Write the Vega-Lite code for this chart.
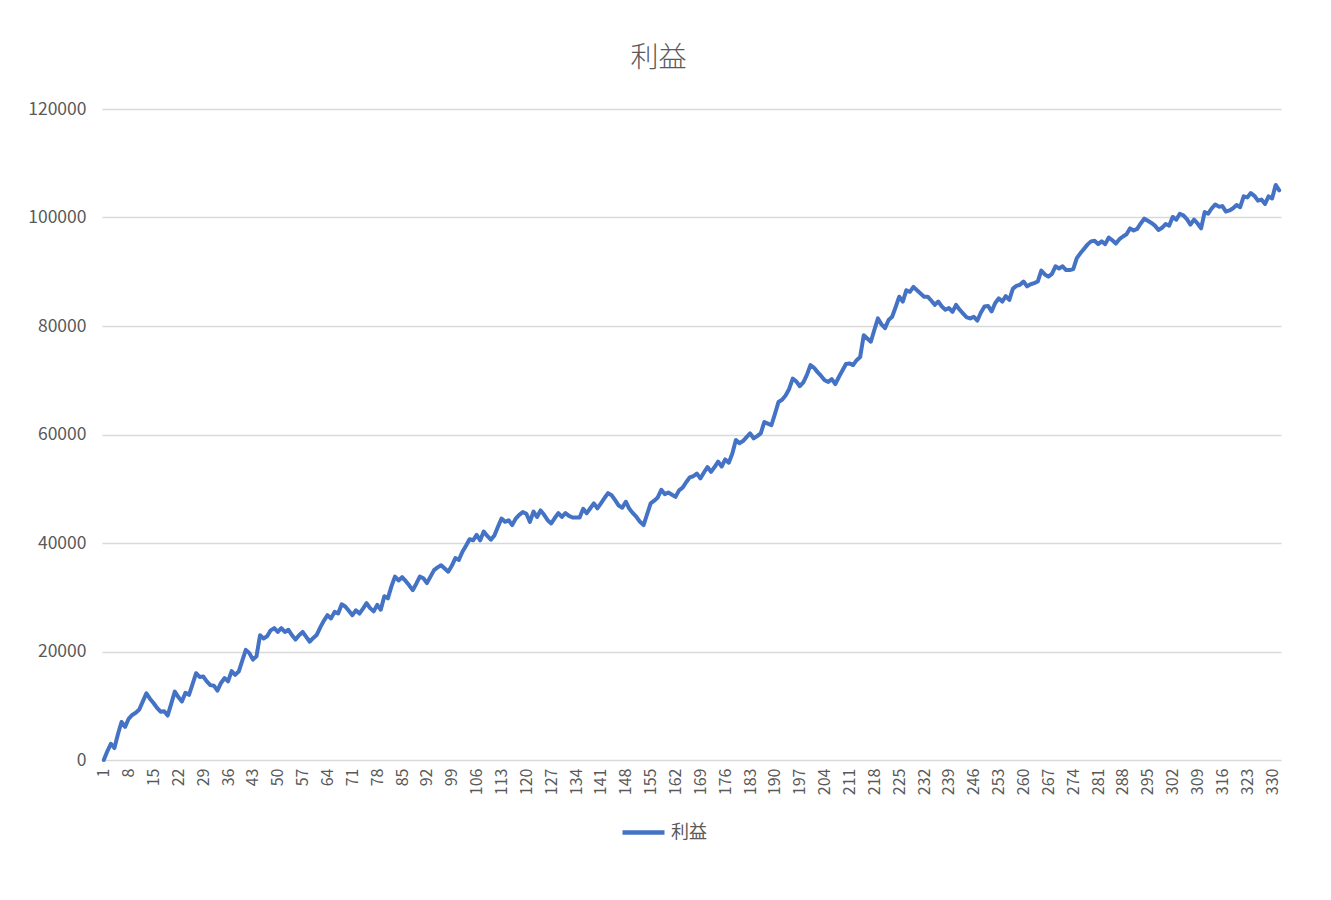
{
  "$schema": "https://vega.github.io/schema/vega-lite/v6.json",
  "autosize": {"type": "none"},
  "width": 1179,
  "height": 651,
  "padding": {"left": 102, "top": 109, "right": 50, "bottom": 140},
  "background": "white",
  "title": {"text": "利益", "fontSize": 28, "font": "Noto Sans CJK JP", "fontWeight": 300, "color": "#595959", "anchor": "middle", "dx": -33, "offset": 27},
  "config": {"view": {"stroke": null}, "font": "Noto Sans CJK JP"},
  "data": {"values": [
    {"i":1,"s":"利益","v":0},{"i":2,"s":"利益","v":1600},{"i":3,"s":"利益","v":3000},{"i":4,"s":"利益","v":2200},{"i":5,"s":"利益","v":4800},
    {"i":6,"s":"利益","v":7000},{"i":7,"s":"利益","v":6100},{"i":8,"s":"利益","v":7600},{"i":9,"s":"利益","v":8300},{"i":10,"s":"利益","v":8700},
    {"i":11,"s":"利益","v":9300},{"i":12,"s":"利益","v":10800},{"i":13,"s":"利益","v":12300},{"i":14,"s":"利益","v":11300},{"i":15,"s":"利益","v":10500},
    {"i":16,"s":"利益","v":9600},{"i":17,"s":"利益","v":8900},{"i":18,"s":"利益","v":9000},{"i":19,"s":"利益","v":8200},{"i":20,"s":"利益","v":10400},
    {"i":21,"s":"利益","v":12600},{"i":22,"s":"利益","v":11600},{"i":23,"s":"利益","v":10800},{"i":24,"s":"利益","v":12400},{"i":25,"s":"利益","v":12000},
    {"i":26,"s":"利益","v":14000},{"i":27,"s":"利益","v":16000},{"i":28,"s":"利益","v":15300},{"i":29,"s":"利益","v":15400},{"i":30,"s":"利益","v":14500},
    {"i":31,"s":"利益","v":13800},{"i":32,"s":"利益","v":13700},{"i":33,"s":"利益","v":12800},{"i":34,"s":"利益","v":14200},{"i":35,"s":"利益","v":15100},
    {"i":36,"s":"利益","v":14500},{"i":37,"s":"利益","v":16400},{"i":38,"s":"利益","v":15700},{"i":39,"s":"利益","v":16300},{"i":40,"s":"利益","v":18300},
    {"i":41,"s":"利益","v":20300},{"i":42,"s":"利益","v":19700},{"i":43,"s":"利益","v":18500},{"i":44,"s":"利益","v":19100},{"i":45,"s":"利益","v":23000},
    {"i":46,"s":"利益","v":22400},{"i":47,"s":"利益","v":22800},{"i":48,"s":"利益","v":23900},{"i":49,"s":"利益","v":24300},{"i":50,"s":"利益","v":23600},
    {"i":51,"s":"利益","v":24300},{"i":52,"s":"利益","v":23600},{"i":53,"s":"利益","v":24000},{"i":54,"s":"利益","v":23000},{"i":55,"s":"利益","v":22200},
    {"i":56,"s":"利益","v":23000},{"i":57,"s":"利益","v":23600},{"i":58,"s":"利益","v":22700},{"i":59,"s":"利益","v":21800},{"i":60,"s":"利益","v":22500},
    {"i":61,"s":"利益","v":23100},{"i":62,"s":"利益","v":24500},{"i":63,"s":"利益","v":25700},{"i":64,"s":"利益","v":26700},{"i":65,"s":"利益","v":26100},
    {"i":66,"s":"利益","v":27300},{"i":67,"s":"利益","v":27000},{"i":68,"s":"利益","v":28700},{"i":69,"s":"利益","v":28300},{"i":70,"s":"利益","v":27500},
    {"i":71,"s":"利益","v":26700},{"i":72,"s":"利益","v":27600},{"i":73,"s":"利益","v":27000},{"i":74,"s":"利益","v":27900},{"i":75,"s":"利益","v":28900},
    {"i":76,"s":"利益","v":28000},{"i":77,"s":"利益","v":27400},{"i":78,"s":"利益","v":28600},{"i":79,"s":"利益","v":27700},{"i":80,"s":"利益","v":30200},
    {"i":81,"s":"利益","v":29800},{"i":82,"s":"利益","v":32000},{"i":83,"s":"利益","v":33800},{"i":84,"s":"利益","v":33100},{"i":85,"s":"利益","v":33700},
    {"i":86,"s":"利益","v":33000},{"i":87,"s":"利益","v":32200},{"i":88,"s":"利益","v":31300},{"i":89,"s":"利益","v":32500},{"i":90,"s":"利益","v":33800},
    {"i":91,"s":"利益","v":33500},{"i":92,"s":"利益","v":32600},{"i":93,"s":"利益","v":33800},{"i":94,"s":"利益","v":35000},{"i":95,"s":"利益","v":35500},
    {"i":96,"s":"利益","v":35900},{"i":97,"s":"利益","v":35300},{"i":98,"s":"利益","v":34700},{"i":99,"s":"利益","v":35800},{"i":100,"s":"利益","v":37200},
    {"i":101,"s":"利益","v":36900},{"i":102,"s":"利益","v":38400},{"i":103,"s":"利益","v":39500},{"i":104,"s":"利益","v":40700},{"i":105,"s":"利益","v":40500},
    {"i":106,"s":"利益","v":41500},{"i":107,"s":"利益","v":40500},{"i":108,"s":"利益","v":42100},{"i":109,"s":"利益","v":41300},{"i":110,"s":"利益","v":40600},
    {"i":111,"s":"利益","v":41400},{"i":112,"s":"利益","v":43000},{"i":113,"s":"利益","v":44500},{"i":114,"s":"利益","v":43900},{"i":115,"s":"利益","v":44200},
    {"i":116,"s":"利益","v":43300},{"i":117,"s":"利益","v":44500},{"i":118,"s":"利益","v":45200},{"i":119,"s":"利益","v":45700},{"i":120,"s":"利益","v":45400},
    {"i":121,"s":"利益","v":43900},{"i":122,"s":"利益","v":45800},{"i":123,"s":"利益","v":44800},{"i":124,"s":"利益","v":46000},{"i":125,"s":"利益","v":45200},
    {"i":126,"s":"利益","v":44200},{"i":127,"s":"利益","v":43600},{"i":128,"s":"利益","v":44600},{"i":129,"s":"利益","v":45500},{"i":130,"s":"利益","v":44800},
    {"i":131,"s":"利益","v":45500},{"i":132,"s":"利益","v":45000},{"i":133,"s":"利益","v":44700},{"i":134,"s":"利益","v":44700},{"i":135,"s":"利益","v":44700},
    {"i":136,"s":"利益","v":46300},{"i":137,"s":"利益","v":45500},{"i":138,"s":"利益","v":46400},{"i":139,"s":"利益","v":47300},{"i":140,"s":"利益","v":46400},
    {"i":141,"s":"利益","v":47300},{"i":142,"s":"利益","v":48300},{"i":143,"s":"利益","v":49200},{"i":144,"s":"利益","v":48800},{"i":145,"s":"利益","v":47900},
    {"i":146,"s":"利益","v":46900},{"i":147,"s":"利益","v":46500},{"i":148,"s":"利益","v":47600},{"i":149,"s":"利益","v":46300},{"i":150,"s":"利益","v":45500},
    {"i":151,"s":"利益","v":44800},{"i":152,"s":"利益","v":43900},{"i":153,"s":"利益","v":43300},{"i":154,"s":"利益","v":45300},{"i":155,"s":"利益","v":47300},
    {"i":156,"s":"利益","v":47800},{"i":157,"s":"利益","v":48400},{"i":158,"s":"利益","v":49800},{"i":159,"s":"利益","v":49000},{"i":160,"s":"利益","v":49300},
    {"i":161,"s":"利益","v":48900},{"i":162,"s":"利益","v":48500},{"i":163,"s":"利益","v":49700},{"i":164,"s":"利益","v":50200},{"i":165,"s":"利益","v":51200},
    {"i":166,"s":"利益","v":52100},{"i":167,"s":"利益","v":52300},{"i":168,"s":"利益","v":52800},{"i":169,"s":"利益","v":51900},{"i":170,"s":"利益","v":53000},
    {"i":171,"s":"利益","v":54000},{"i":172,"s":"利益","v":53100},{"i":173,"s":"利益","v":54000},{"i":174,"s":"利益","v":55000},{"i":175,"s":"利益","v":54100},
    {"i":176,"s":"利益","v":55400},{"i":177,"s":"利益","v":54800},{"i":178,"s":"利益","v":56500},{"i":179,"s":"利益","v":59000},{"i":180,"s":"利益","v":58400},
    {"i":181,"s":"利益","v":58800},{"i":182,"s":"利益","v":59500},{"i":183,"s":"利益","v":60200},{"i":184,"s":"利益","v":59300},{"i":185,"s":"利益","v":59700},
    {"i":186,"s":"利益","v":60200},{"i":187,"s":"利益","v":62300},{"i":188,"s":"利益","v":62000},{"i":189,"s":"利益","v":61700},{"i":190,"s":"利益","v":63800},
    {"i":191,"s":"利益","v":66000},{"i":192,"s":"利益","v":66400},{"i":193,"s":"利益","v":67200},{"i":194,"s":"利益","v":68400},{"i":195,"s":"利益","v":70300},
    {"i":196,"s":"利益","v":69800},{"i":197,"s":"利益","v":68900},{"i":198,"s":"利益","v":69600},{"i":199,"s":"利益","v":71000},{"i":200,"s":"利益","v":72800},
    {"i":201,"s":"利益","v":72300},{"i":202,"s":"利益","v":71500},{"i":203,"s":"利益","v":70800},{"i":204,"s":"利益","v":70000},{"i":205,"s":"利益","v":69700},
    {"i":206,"s":"利益","v":70200},{"i":207,"s":"利益","v":69300},{"i":208,"s":"利益","v":70600},{"i":209,"s":"利益","v":71800},{"i":210,"s":"利益","v":73000},
    {"i":211,"s":"利益","v":73100},{"i":212,"s":"利益","v":72800},{"i":213,"s":"利益","v":73700},{"i":214,"s":"利益","v":74300},{"i":215,"s":"利益","v":78300},
    {"i":216,"s":"利益","v":77700},{"i":217,"s":"利益","v":77100},{"i":218,"s":"利益","v":79300},{"i":219,"s":"利益","v":81400},{"i":220,"s":"利益","v":80300},
    {"i":221,"s":"利益","v":79600},{"i":222,"s":"利益","v":81100},{"i":223,"s":"利益","v":81700},{"i":224,"s":"利益","v":83500},{"i":225,"s":"利益","v":85400},
    {"i":226,"s":"利益","v":84500},{"i":227,"s":"利益","v":86600},{"i":228,"s":"利益","v":86300},{"i":229,"s":"利益","v":87200},{"i":230,"s":"利益","v":86600},
    {"i":231,"s":"利益","v":86000},{"i":232,"s":"利益","v":85400},{"i":233,"s":"利益","v":85400},{"i":234,"s":"利益","v":84700},{"i":235,"s":"利益","v":83900},
    {"i":236,"s":"利益","v":84500},{"i":237,"s":"利益","v":83600},{"i":238,"s":"利益","v":83000},{"i":239,"s":"利益","v":83300},{"i":240,"s":"利益","v":82600},
    {"i":241,"s":"利益","v":83900},{"i":242,"s":"利益","v":83000},{"i":243,"s":"利益","v":82300},{"i":244,"s":"利益","v":81600},{"i":245,"s":"利益","v":81400},
    {"i":246,"s":"利益","v":81700},{"i":247,"s":"利益","v":81000},{"i":248,"s":"利益","v":82500},{"i":249,"s":"利益","v":83600},{"i":250,"s":"利益","v":83700},
    {"i":251,"s":"利益","v":82700},{"i":252,"s":"利益","v":84200},{"i":253,"s":"利益","v":85100},{"i":254,"s":"利益","v":84500},{"i":255,"s":"利益","v":85500},
    {"i":256,"s":"利益","v":84800},{"i":257,"s":"利益","v":86900},{"i":258,"s":"利益","v":87400},{"i":259,"s":"利益","v":87600},{"i":260,"s":"利益","v":88200},
    {"i":261,"s":"利益","v":87300},{"i":262,"s":"利益","v":87700},{"i":263,"s":"利益","v":87900},{"i":264,"s":"利益","v":88200},{"i":265,"s":"利益","v":90200},
    {"i":266,"s":"利益","v":89500},{"i":267,"s":"利益","v":89100},{"i":268,"s":"利益","v":89600},{"i":269,"s":"利益","v":91000},{"i":270,"s":"利益","v":90600},
    {"i":271,"s":"利益","v":91000},{"i":272,"s":"利益","v":90300},{"i":273,"s":"利益","v":90300},{"i":274,"s":"利益","v":90500},{"i":275,"s":"利益","v":92500},
    {"i":276,"s":"利益","v":93400},{"i":277,"s":"利益","v":94200},{"i":278,"s":"利益","v":95000},{"i":279,"s":"利益","v":95600},{"i":280,"s":"利益","v":95700},
    {"i":281,"s":"利益","v":95100},{"i":282,"s":"利益","v":95600},{"i":283,"s":"利益","v":95100},{"i":284,"s":"利益","v":96300},{"i":285,"s":"利益","v":95800},
    {"i":286,"s":"利益","v":95200},{"i":287,"s":"利益","v":96000},{"i":288,"s":"利益","v":96500},{"i":289,"s":"利益","v":96900},{"i":290,"s":"利益","v":98000},
    {"i":291,"s":"利益","v":97600},{"i":292,"s":"利益","v":97900},{"i":293,"s":"利益","v":98900},{"i":294,"s":"利益","v":99800},{"i":295,"s":"利益","v":99400},
    {"i":296,"s":"利益","v":99000},{"i":297,"s":"利益","v":98500},{"i":298,"s":"利益","v":97700},{"i":299,"s":"利益","v":98100},{"i":300,"s":"利益","v":98800},
    {"i":301,"s":"利益","v":98500},{"i":302,"s":"利益","v":100100},{"i":303,"s":"利益","v":99600},{"i":304,"s":"利益","v":100700},{"i":305,"s":"利益","v":100400},
    {"i":306,"s":"利益","v":99700},{"i":307,"s":"利益","v":98700},{"i":308,"s":"利益","v":99600},{"i":309,"s":"利益","v":98900},{"i":310,"s":"利益","v":98000},
    {"i":311,"s":"利益","v":101000},{"i":312,"s":"利益","v":100700},{"i":313,"s":"利益","v":101700},{"i":314,"s":"利益","v":102400},{"i":315,"s":"利益","v":102000},
    {"i":316,"s":"利益","v":102100},{"i":317,"s":"利益","v":101100},{"i":318,"s":"利益","v":101300},{"i":319,"s":"利益","v":101700},{"i":320,"s":"利益","v":102300},
    {"i":321,"s":"利益","v":101900},{"i":322,"s":"利益","v":103900},{"i":323,"s":"利益","v":103700},{"i":324,"s":"利益","v":104500},{"i":325,"s":"利益","v":104000},
    {"i":326,"s":"利益","v":103100},{"i":327,"s":"利益","v":103300},{"i":328,"s":"利益","v":102500},{"i":329,"s":"利益","v":103900},{"i":330,"s":"利益","v":103500},
    {"i":331,"s":"利益","v":106000},{"i":332,"s":"利益","v":105000}
  ]},
  "mark": {"type": "line", "strokeWidth": 4, "strokeJoin": "round", "strokeCap": "round"},
  "encoding": {
    "x": {
      "field": "i", "type": "quantitative",
      "scale": {"domain": [0.5, 332.5], "nice": false, "zero": false},
      "axis": {
        "title": null, "grid": false, "ticks": false, "domain": false,
        "values": [1,8,15,22,29,36,43,50,57,64,71,78,85,92,99,106,113,120,127,134,141,148,155,162,169,176,183,190,197,204,211,218,225,232,239,246,253,260,267,274,281,288,295,302,309,316,323,330],
        "labelAngle": -90, "labelFontSize": 16, "labelColor": "#595959", "labelPadding": 8,
        "labelFont": "Noto Sans CJK JP", "labelOverlap": false, "labelFlush": false, "format": "d"
      }
    },
    "y": {
      "field": "v", "type": "quantitative",
      "scale": {"domain": [0, 120000], "nice": false},
      "axis": {
        "title": null, "values": [0,20000,40000,60000,80000,100000,120000], "format": "d",
        "grid": true, "gridColor": "#D9D9D9", "gridWidth": 1.3, "ticks": false, "domain": false,
        "labelFontSize": 17.5, "labelColor": "#595959", "labelPadding": 16, "labelFont": "Noto Sans CJK JP"
      }
    },
    "color": {
      "field": "s", "type": "nominal",
      "scale": {"range": ["#4472C4"]},
      "legend": {
        "title": null, "orient": "none", "legendX": 518, "legendY": 700,
        "symbolType": "stroke", "symbolStrokeWidth": 4.5, "symbolSize": 1764,
        "labelFontSize": 18, "labelColor": "#595959", "labelFont": "Noto Sans CJK JP", "labelOffset": 4
      }
    }
  }
}
